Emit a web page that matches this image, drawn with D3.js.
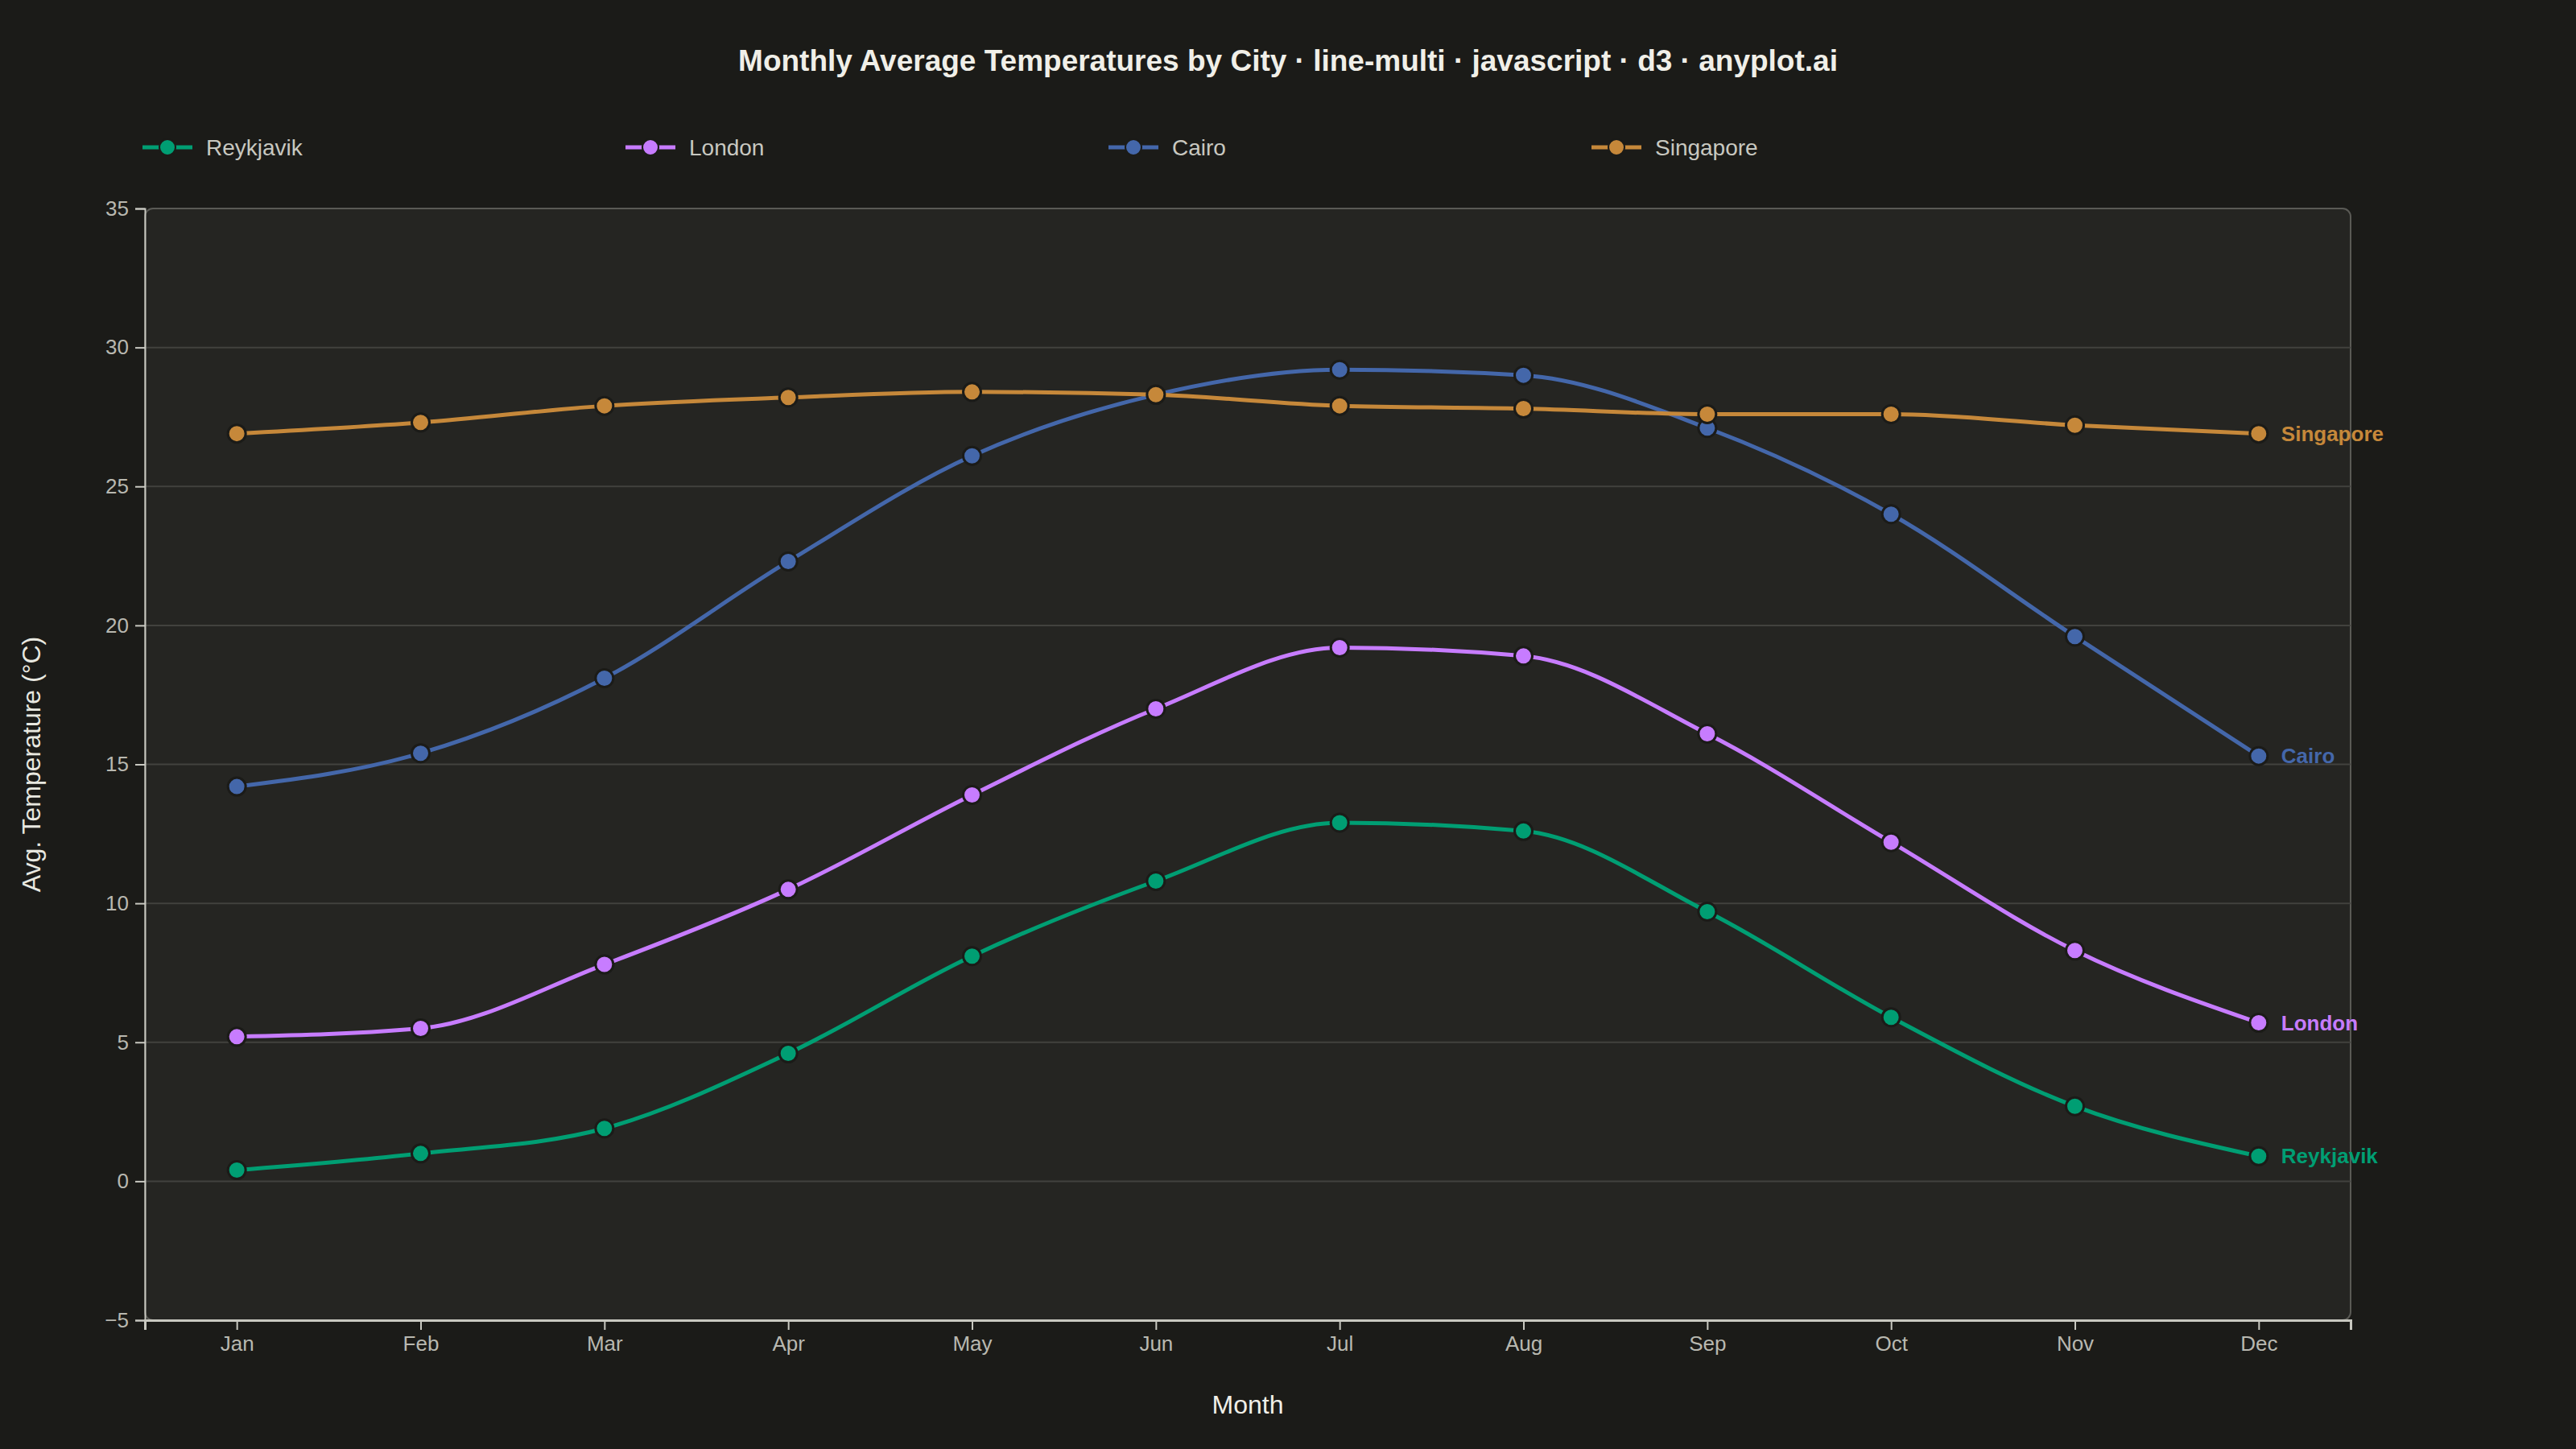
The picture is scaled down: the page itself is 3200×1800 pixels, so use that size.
<!DOCTYPE html>
<html>
<head>
<meta charset="utf-8">
<script src="https://cdn.jsdelivr.net/npm/d3@7"></script>
<style>
  html, body { margin: 0; padding: 0; background: #1b1b18; }
  svg { display: block; font-family: "Liberation Sans", Arial, Helvetica, sans-serif; }
</style>
</head>
<body>
<svg id="chart" width="3200" height="1800"></svg>
<script>
// data
var months = ['Jan', 'Feb', 'Mar', 'Apr', 'May', 'Jun', 'Jul', 'Aug', 'Sep', 'Oct', 'Nov', 'Dec'];
var cities = ['Reykjavik', 'London', 'Cairo', 'Singapore'];
var reykjavik = [0.4, 1.0, 1.9, 4.6, 8.1, 10.8, 12.9, 12.6, 9.7, 5.9, 2.7, 0.9];
var london    = [5.2, 5.5, 7.8, 10.5, 13.9, 17.0, 19.2, 18.9, 16.1, 12.2, 8.3, 5.7];
var cairo     = [14.2, 15.4, 18.1, 22.3, 26.1, 28.3, 29.2, 29.0, 27.1, 24.0, 19.6, 15.3];
var singapore = [26.9, 27.3, 27.9, 28.2, 28.4, 28.3, 27.9, 27.8, 27.6, 27.6, 27.2, 26.9];
var yTicks = [-5, 0, 5, 10, 15, 20, 25, 30, 35];
var colors = ['#009e73', '#c77cff', '#4467aa', '#c6883a'];

var seriesValues = [reykjavik, london, cairo, singapore];

var W = 3200, H = 1800;
var margin = {top: 259, right: 280, bottom: 160, left: 180};
var plotW = W - margin.left - margin.right;
var plotH = H - margin.top - margin.bottom;

var svg = d3.select('#chart');

var x = d3.scalePoint().domain(months).range([0, plotW]).padding(0.5);
var y = d3.scaleLinear().domain([-5, 35]).range([plotH, 0]);

// title
svg.append('text')
  .attr('x', W / 2).attr('y', 88)
  .attr('text-anchor', 'middle')
  .attr('fill', '#f0efe8')
  .attr('font-size', 37).attr('font-weight', 'bold')
  .text('Monthly Average Temperatures by City \u00b7 line-multi \u00b7 javascript \u00b7 d3 \u00b7 anyplot.ai');

// legend
var legend = svg.append('g').attr('transform', 'translate(177,183)');
var item = legend.selectAll('g').data(cities).enter().append('g')
  .attr('transform', function(d, i) { return 'translate(' + (i * 600) + ',0)'; });
item.append('line')
  .attr('x1', 0).attr('x2', 62)
  .attr('stroke', function(d, i) { return colors[i]; })
  .attr('stroke-width', 5);
item.append('circle')
  .attr('cx', 31).attr('r', 10)
  .attr('fill', function(d, i) { return colors[i]; })
  .attr('stroke', '#1b1b18').attr('stroke-width', 2);
item.append('text')
  .attr('x', 79).attr('dy', '0.35em')
  .attr('fill', '#c8c8c0').attr('font-size', 28)
  .text(function(d) { return d; });

var g = svg.append('g').attr('transform', 'translate(' + margin.left + ',' + margin.top + ')');

// plot background
g.append('rect')
  .attr('width', plotW).attr('height', plotH)
  .attr('rx', 10)
  .attr('fill', '#252522')
  .attr('stroke', '#5a5a55').attr('stroke-width', 2);

// grid
g.append('g').selectAll('line').data(yTicks.slice(1, -1)).enter().append('line')
  .attr('x1', 0).attr('x2', plotW)
  .attr('y1', function(d) { return y(d); }).attr('y2', function(d) { return y(d); })
  .attr('stroke', '#42423e').attr('stroke-width', 2);

// axes
var xAxis = g.append('g').attr('transform', 'translate(0,' + plotH + ')')
  .call(d3.axisBottom(x).tickSize(12).tickPadding(8));
var yAxis = g.append('g')
  .call(d3.axisLeft(y).tickValues(yTicks).tickSize(12).tickPadding(8));

[xAxis, yAxis].forEach(function(ax) {
  ax.selectAll('text').attr('font-size', 26).attr('fill', '#b8b8b0')
    .attr('font-family', '"Liberation Sans", Arial, sans-serif');
  ax.selectAll('.tick line').attr('stroke', '#c8c8c0').attr('stroke-width', 2);
  ax.select('.domain').attr('stroke', '#c8c8c0').attr('stroke-width', 2);
});
xAxis.select('.domain').attr('stroke-width', 3);

// axis titles
svg.append('text')
  .attr('x', margin.left + plotW / 2).attr('y', 1756)
  .attr('text-anchor', 'middle')
  .attr('fill', '#f0efe8').attr('font-size', 32)
  .text('Month');
svg.append('text')
  .attr('transform', 'translate(50,' + (margin.top + plotH / 2) + ') rotate(-90)')
  .attr('text-anchor', 'middle')
  .attr('fill', '#e8e8e0').attr('font-size', 32)
  .text('Avg. Temperature (\u00b0C)');

// lines
var line = d3.line()
  .x(function(d, i) { return x(months[i]); })
  .y(function(d) { return y(d); })
  .curve(d3.curveMonotoneX);

var series = g.selectAll('.series').data(seriesValues).enter().append('g').attr('class', 'series');

series.append('path')
  .attr('d', function(d) { return line(d); })
  .attr('fill', 'none')
  .attr('stroke', function(d, i) { return colors[i]; })
  .attr('stroke-width', 5);

series.each(function(vals, si) {
  d3.select(this).selectAll('circle').data(vals).enter().append('circle')
    .attr('cx', function(d, i) { return x(months[i]); })
    .attr('cy', function(d) { return y(d); })
    .attr('r', 11)
    .attr('fill', colors[si])
    .attr('stroke', '#1b1b18').attr('stroke-width', 3);
});

// end labels
series.append('text')
  .attr('x', x(months[months.length - 1]) + 28)
  .attr('y', function(d) { return y(d[d.length - 1]); })
  .attr('dy', '0.35em')
  .attr('fill', function(d, i) { return colors[i]; })
  .attr('font-size', 26).attr('font-weight', 'bold')
  .text(function(d, i) { return cities[i]; });
</script>
</body>
</html>
